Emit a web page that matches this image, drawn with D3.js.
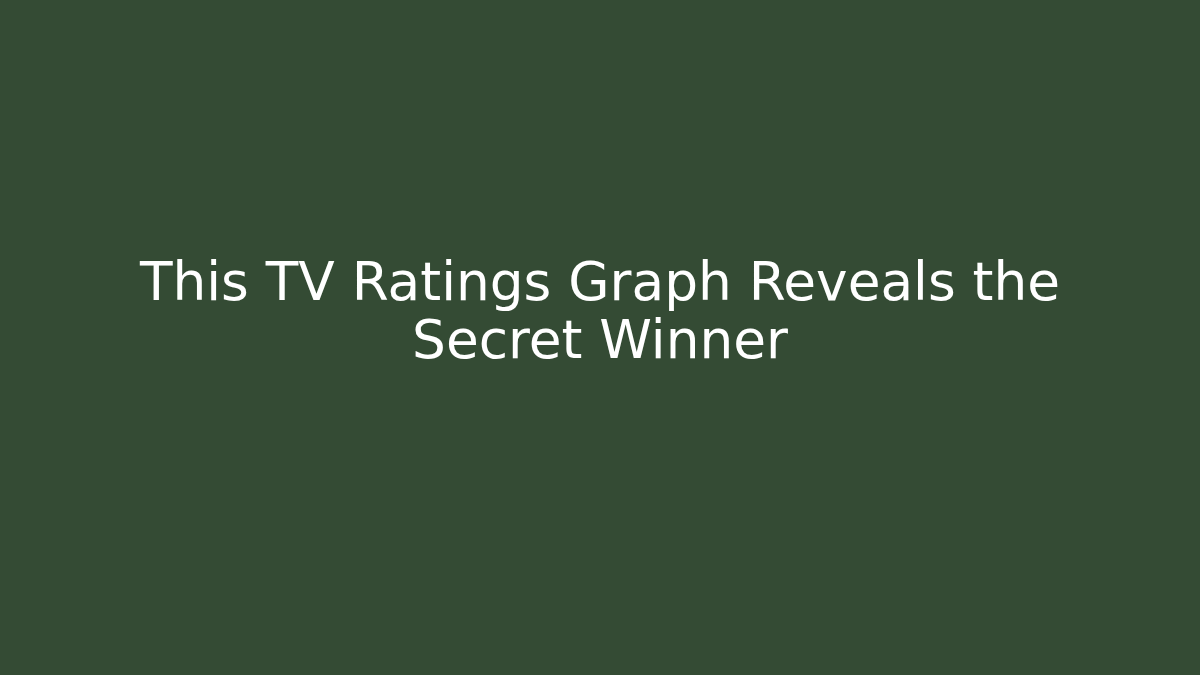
<!DOCTYPE html>
<html>
<head>
<meta charset="utf-8">
<script src="https://cdn.jsdelivr.net/npm/d3@7"></script>
<style>
  body { margin: 0; background: #344b34; }
</style>
</head>
<body>
<div id="chart"></div>
<script>
// Title card text, one entry per line.
const titleLines = ['This TV Ratings Graph Reveals the', 'Secret Winner'];

const width = 1200;
const height = 675;

const svg = d3.select('#chart')
  .append('svg')
  .attr('width', width)
  .attr('height', height);

svg.append('rect')
  .attr('width', width)
  .attr('height', height)
  .attr('fill', '#344b34');

// Line baselines through a point scale so the block stays centred.
const yScale = d3.scalePoint()
  .domain(d3.range(titleLines.length))
  .range([300, 358]);

svg.selectAll('text.title')
  .data(titleLines)
  .enter()
  .append('text')
  .attr('class', 'title')
  .attr('x', width / 2)
  .attr('y', (d, i) => yScale(i))
  .attr('text-anchor', 'middle')
  .attr('font-family', 'DejaVu Sans')
  .attr('font-size', 53.3)
  .attr('fill', '#ffffff')
  .text((d) => d);
</script>
</body>
</html>
